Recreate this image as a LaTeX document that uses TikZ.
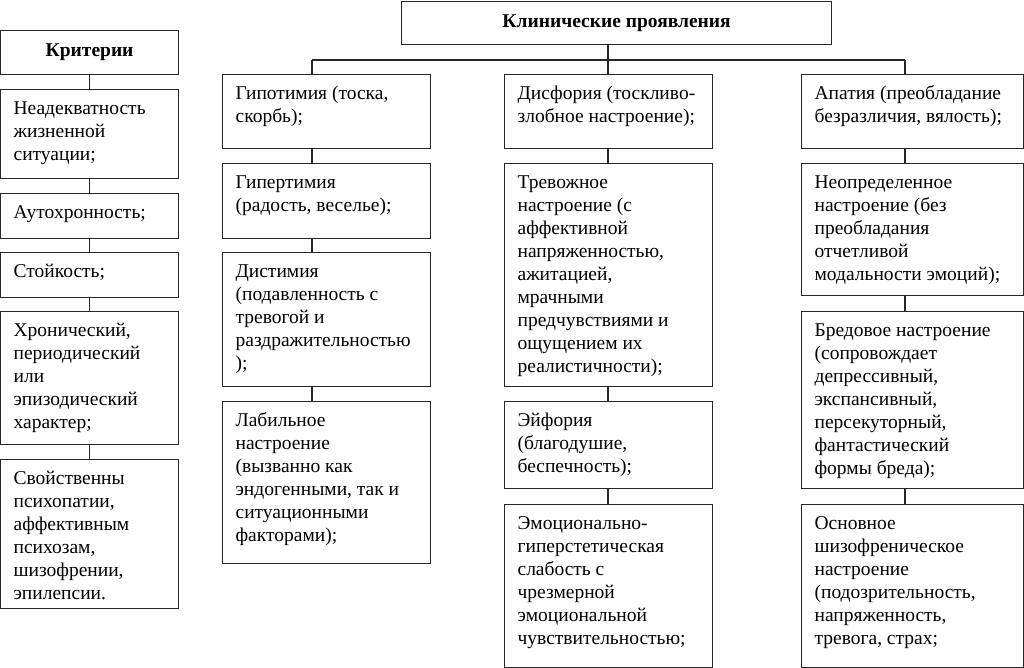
\documentclass[tikz,border=0pt]{standalone}
\usepackage{fontspec}
\setmainfont{Liberation Serif}
\usepackage{tikz}
\usetikzlibrary{positioning, calc}

% text of a box: fixed size, set from the top left
\newcommand{\celltext}[3]{\parbox[t][#2pt][t]{#1pt}{\raggedright\leftskip=13pt\vspace*{9pt}\strut #3}}

\tikzset{
  cell/.style={draw=black!85, line width=1.2pt, anchor=north west, inner sep=0pt,
    font=\fontsize{19.5}{23}\selectfont},
  headcell/.style={draw=black!85, line width=1.2pt, anchor=north west, inner sep=0pt,
    font=\fontsize{19.5}{23}\selectfont\bfseries, align=center},
  link/.style={draw=black!85, line width=1.2pt}
}

\begin{document}
\begin{tikzpicture}[x=1pt, y=-1pt]
        \useasboundingbox (0,0) rectangle (1024,668);

        % Criteria
        \node[headcell, minimum width=178pt, minimum height=44pt] (crit) at (0,30) {Критерии};
        \node[cell] (k1) at (0,89) {\celltext{178}{89}{Неадекватность\\жизненной\\ситуации;}};
        \node[cell] (k2) at (0,193) {\celltext{178}{45}{Аутохронность;}};
        \node[cell] (k3) at (0,252) {\celltext{178}{45}{Стойкость;}};
        \node[cell] (k4) at (0,311) {\celltext{178}{133}{Хронический,\\периодический\\или\\эпизодический\\характер;}};
        \node[cell] (k5) at (0,459) {\celltext{178}{149}{Свойственны\\психопатии,\\аффективным\\психозам,\\шизофрении,\\эпилепсии.}};

        % Clinical manifestations
        \node[headcell, minimum width=430pt, minimum height=43pt] (clin) at (401,1) {Клинические проявления};

        \node[cell] (g1) at (222,74) {\celltext{208}{74}{Гипотимия (тоска,\\скорбь);}};
        \node[cell] (g2) at (222,163) {\celltext{208}{75}{Гипертимия\\(радость, веселье);}};
        \node[cell] (g3) at (222,252) {\celltext{208}{134}{Дистимия\\(подавленность с\\тревогой и\\раздражительностью\\);}};
        \node[cell] (g4) at (222,401) {\celltext{208}{162}{Лабильное\\настроение\\(вызванно как\\эндогенными, так и\\ситуационными\\факторами);}};

        \node[cell] (d1) at (504,74) {\celltext{208}{74}{Дисфория (тоскливо-\\злобное настроение);}};
        \node[cell] (d2) at (504,163) {\celltext{208}{223}{Тревожное\\настроение (с\\аффективной\\напряженностью,\\ажитацией,\\мрачными\\предчувствиями и\\ощущением их\\реалистичности);}};
        \node[cell] (d3) at (504,401) {\celltext{208}{87}{Эйфория\\(благодушие,\\беспечность);}};
        \node[cell] (d4) at (504,504) {\celltext{208}{163}{Эмоционально-\\гиперстетическая\\слабость с\\чрезмерной\\эмоциональной\\чувствительностью;}};

        \node[cell] (a1) at (801,74) {\celltext{222}{74}{Апатия (преобладание\\безразличия, вялость);}};
        \node[cell] (a2) at (801,163) {\celltext{222}{132}{Неопределенное\\настроение (без\\преобладания\\отчетливой\\модальности эмоций);}};
        \node[cell] (a3) at (801,311) {\celltext{222}{177}{Бредовое настроение\\(сопровождает\\депрессивный,\\экспансивный,\\персекуторный,\\фантастический\\формы бреда);}};
        \node[cell] (a4) at (801,504) {\celltext{222}{163}{Основное\\шизофреническое\\настроение\\(подозрительность,\\напряженность,\\тревога, страх;}};

        % Connectors
        \coordinate (busL) at (312,60);
        \coordinate (busM) at (608,60);
        \coordinate (busR) at (905,60);

        \foreach \a/\b in {crit/k1, k1/k2, k2/k3, k3/k4, k4/k5}
          \draw[link] (\a.south) -- (\b.north);

        \draw[link] (clin.south -| busM) -- (busM);
        \draw[link] (busL) -- (busR);
        \draw[link] (busL) -- (busL |- g1.north);
        \draw[link] (busM) -- (busM |- d1.north);
        \draw[link] (busR) -- (busR |- a1.north);

        \foreach \a/\b in {g1/g2, g2/g3, g3/g4}
          \draw[link] (\a.south -| busL) -- (\b.north -| busL);
        \foreach \a/\b in {d1/d2, d2/d3, d3/d4}
          \draw[link] (\a.south -| busM) -- (\b.north -| busM);
        \foreach \a/\b in {a1/a2, a2/a3, a3/a4}
          \draw[link] (\a.south -| busR) -- (\b.north -| busR);
      \end{tikzpicture}
\end{document}
